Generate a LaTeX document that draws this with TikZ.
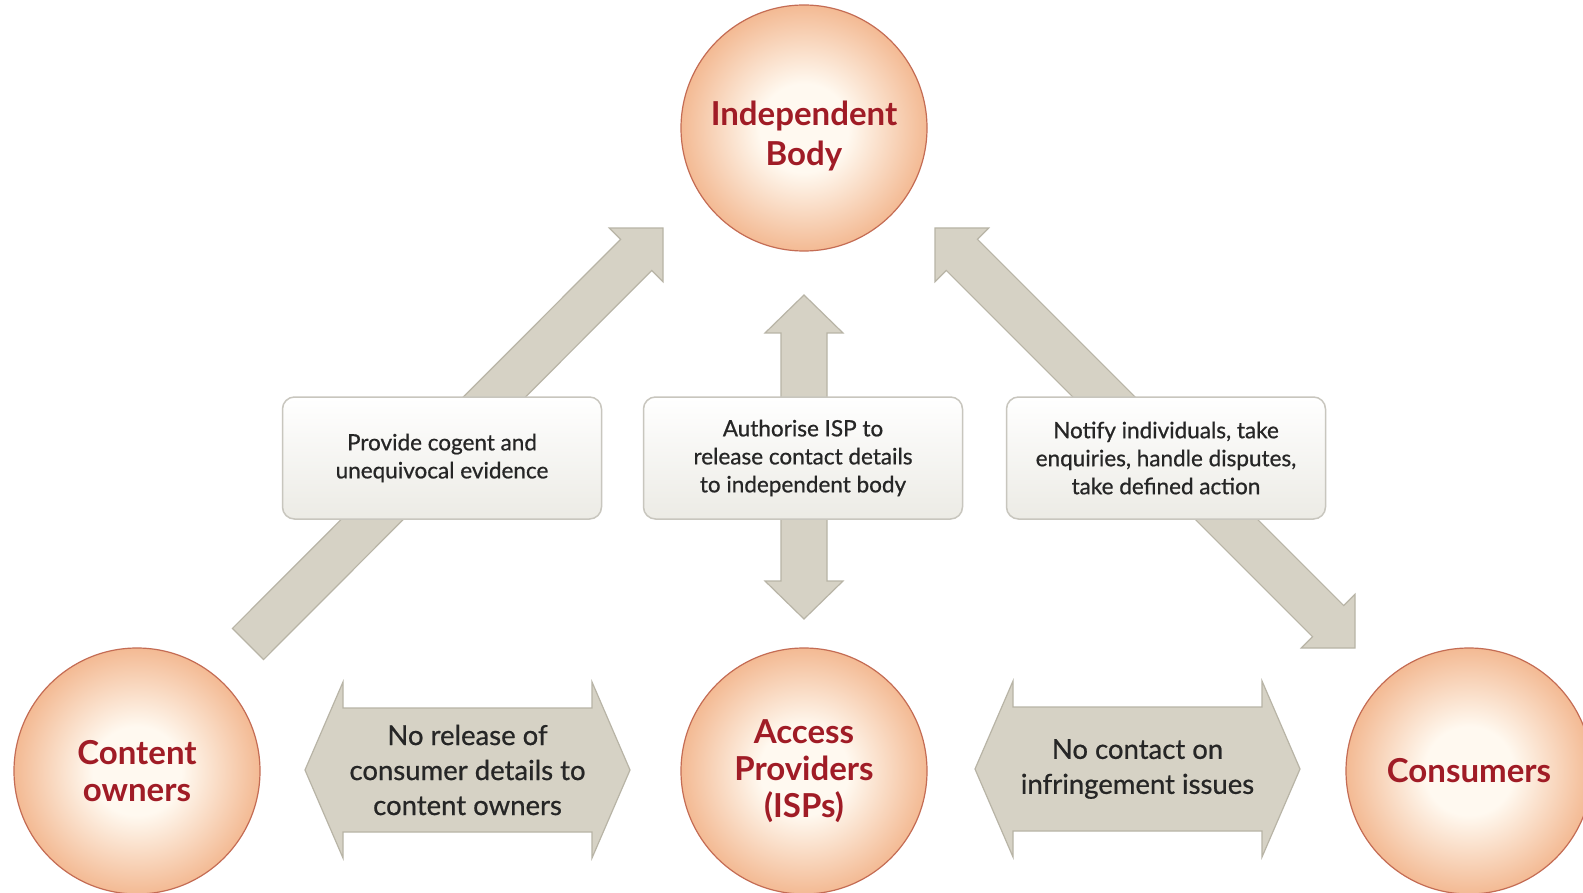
\documentclass[tikz,border=0pt]{standalone}
\usepackage{fontspec}
\setmainfont{Lato}
\newfontfamily\notefont[FakeBold=0.7]{Lato}
\usepackage{tikz}
\usetikzlibrary{calc}

\definecolor{orbedge}{RGB}{241,174,130}
\definecolor{orbcentre}{RGB}{255,249,240}
\definecolor{orbline}{RGB}{196,108,84}
\definecolor{orbtext}{RGB}{160,28,38}
\definecolor{bandfill}{RGB}{214,210,197}
\definecolor{bandline}{RGB}{184,180,166}
\definecolor{boxline}{RGB}{200,198,190}
\definecolor{boxbottom}{RGB}{236,235,229}
\definecolor{boxtext}{RGB}{38,38,38}

\pgfdeclareradialshading{orbglow}{\pgfpoint{0bp}{0bp}}{%
  color(0bp)=(orbcentre); color(9bp)=(orbcentre);
  color(28bp)=(orbedge); color(50bp)=(orbedge)}

% grey band with one head, tail #1 -> tip #2
\newcommand{\bandone}[2]{%
  \coordinate (hb) at ($(#2)!38pt!(#1)$);
  \draw[band] ($(#1)!22pt!90:(#2)$) -- ($(hb)!22pt!-90:(#1)$) -- ($(hb)!38pt!-90:(#1)$) -- (#2)
    -- ($(hb)!38pt!90:(#1)$) -- ($(hb)!22pt!90:(#1)$) -- ($(#1)!22pt!-90:(#2)$) -- cycle;}

% grey band with two heads; #3 = half shaft, #4 = half head
\newcommand{\bandtwo}[4]{%
  \coordinate (ha) at ($(#1)!38pt!(#2)$);
  \coordinate (hb) at ($(#2)!38pt!(#1)$);
  \draw[band] (#1) -- ($(ha)!#4!90:(#2)$) -- ($(ha)!#3!90:(#2)$) -- ($(hb)!#3!-90:(#1)$)
    -- ($(hb)!#4!-90:(#1)$) -- (#2) -- ($(hb)!#4!90:(#1)$) -- ($(hb)!#3!90:(#1)$)
    -- ($(ha)!#3!-90:(#2)$) -- ($(ha)!#4!-90:(#2)$) -- cycle;}

\begin{document}
\begin{tikzpicture}[x=1pt,y=-1pt]

%
% Styles
%
\tikzstyle{party}    = [circle,draw=orbline,line width=1.2pt,shading=orbglow,minimum size=246pt,inner sep=0pt,
                        align=center,text=orbtext,font=\fontsize{33}{37}\selectfont\bfseries]
\tikzstyle{partytext}= [align=center,text=orbtext,font=\fontsize{33}{40}\selectfont\bfseries]
\tikzstyle{note}     = [rectangle,rounded corners=12pt,draw=boxline,line width=1.5pt,top color=white,
                        bottom color=boxbottom,minimum width=319pt,minimum height=122pt,align=center,
                        text=boxtext,font=\fontsize{22.5}{28}\notefont]
\tikzstyle{band}     = [fill=bandfill,draw=bandline,line width=1.2pt,line join=miter]
\tikzstyle{bandtext} = [align=center,text=boxtext,font=\fontsize{27.5}{35}\notefont]

\fill[white] (0,0) rectangle (1583,893);
\useasboundingbox (0,0) rectangle (1583,893);

% band ends
\coordinate (evTail) at ( 248,644);
\coordinate (evTip)  at ( 663,228);
\coordinate (auTop)  at ( 804,295);
\coordinate (auBot)  at ( 804,619);
\coordinate (acTop)  at ( 935,228);
\coordinate (acBot)  at (1355,648);
\coordinate (relL)   at ( 305,770);
\coordinate (relR)   at ( 630,770);
\coordinate (infL)   at ( 975,769);
\coordinate (infR)   at (1300,769);

\bandone{evTail}{evTip}
\bandtwo{auTop}{auBot}{23pt}{39pt}
\bandtwo{acTop}{acBot}{22pt}{38pt}
\bandtwo{relL}{relR}{62pt}{88pt}
\bandtwo{infL}{infR}{62pt}{88pt}

\node[bandtext] (release) at ($(relL)!0.5!(relR)$) {No release of\\consumer details to\\content owners};
\node[bandtext] (contact) at ($(infL)!0.5!(infR)$) {No contact on\\infringement issues};

% boxes on the bands
\node[note] (evidence)  at ( 442,458) {Provide cogent and\\unequivocal evidence};
\node[note] (authorise) at ( 803,458) {Authorise ISP to\\release contact details\\to independent body};
\node[note] (notify)    at (1166,458) {Notify individuals, take\\enquiries, handle disputes,\\take defined action};

% parties
\node[party] (body)      at ( 804,128) {};
\node[partytext] (bodyname) at ( 804,136) {Independent\\Body};
\node[party] (owners)    at ( 137,771) {Content\\owners};
\node[party] (isps)      at ( 804,771) {Access\\Providers\\(ISPs)};
\node[party] (consumers) at (1469,771) {Consumers};

\end{tikzpicture}
\end{document}
